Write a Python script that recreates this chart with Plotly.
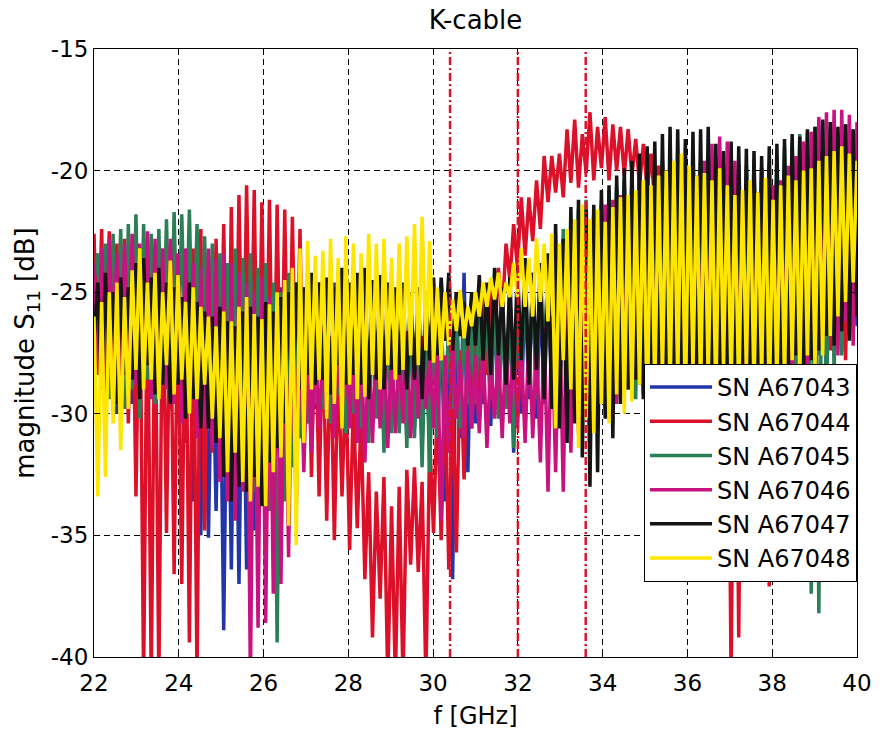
import plotly.graph_objects as go

# ---------------- sweep grid (GHz) ----------------
FREQ_START = 22.0
FREQ_STEP = 0.09
N_POINTS = 201
freq_ghz = [round(FREQ_START + FREQ_STEP * i, 2) for i in range(N_POINTS)]

# Values. "even" = samples at 22.00, 22.18, ... 40.00 GHz,
# "odd" = samples at 22.09, 22.27, ... 39.91 GHz (one line = 0.9 GHz).

# SN A67043 (blue)
a43_even = [
    -27.0, -28.4, -29.2, -30.0, -29.4,
    -29.6, -28.8, -29.2, -28.6, -29.0,
    -29.8, -30.4, -31.2, -33.6, -35.0,
    -35.1, -34.0, -38.9, -36.4, -37.0,
    -36.4, -34.8, -33.6, -32.8, -31.6,
    -30.8, -30.2, -29.6, -30.4, -29.8,
    -29.6, -30.0, -29.2, -29.8, -29.4,
    -29.8, -30.2, -29.4, -30.6, -30.0,
    -30.4, -31.0, -30.6, -31.4, -32.0,
    -32.0, -33.6, -36.8, -31.0, -32.4,
    -30.4, -29.6, -30.5, -29.8, -29.2,
    -31.6, -30.0, -29.4, -30.2, -29.6,
    -29.2, -29.8, -29.0, -28.6, -29.4,
    -29.6, -30.4, -29.8, -29.2, -28.8,
    -29.0, -28.4, -29.2, -28.6, -29.4,
    -28.8, -29.0, -28.4, -28.6, -29.2,
    -28.6, -29.0, -28.2, -28.8, -29.4,
    -29.0, -28.4, -28.8, -29.2, -28.6,
    -28.2, -28.6, -28.0, -28.4, -27.8,
    -27.6, -27.2, -26.8, -27.4, -26.6,
    -26.4,
]
a43_odd = [
    -24.0, -23.6, -24.2, -23.8, -24.4,
    -24.2, -24.6, -24.0, -24.8, -24.4,
    -24.8, -25.2, -25.0, -25.4, -25.6,
    -25.8, -26.2, -25.6, -26.0, -25.4,
    -25.2, -25.6, -25.0, -25.4, -24.8,
    -24.6, -25.0, -24.8, -25.2, -24.6,
    -25.0, -24.6, -25.2, -24.8, -25.4,
    -25.2, -25.6, -25.0, -25.4, -25.8,
    -25.6, -25.2, -25.8, -25.4, -25.0,
    -25.2, -24.8, -25.0, -24.2, -25.4,
    -25.0, -25.6, -25.2, -25.8, -25.4,
    -25.0, -24.6, -24.2, -24.8, -24.4,
    -23.8, -23.2, -22.6, -22.0, -21.6,
    -21.8, -21.4, -21.0, -20.8, -20.6,
    -20.4, -20.2, -20.0, -19.9, -19.8,
    -19.8, -19.9, -19.7, -19.8, -20.0,
    -20.0, -20.2, -20.1, -20.3, -20.2,
    -20.2, -20.0, -19.9, -20.1, -19.8,
    -19.7, -19.6, -19.4, -19.5, -19.3,
    -19.2, -19.1, -19.3, -19.0, -19.4,
]

# SN A67044 (red)
a44_even = [
    -22.6, -22.4, -22.5, -23.0, -22.8,
    -23.0, -23.4, -23.8, -24.2, -23.6,
    -24.4, -24.8, -24.0, -23.2, -22.4,
    -23.4, -22.8, -22.2, -21.5, -21.0,
    -20.6, -20.8, -21.3, -21.2, -21.4,
    -21.6, -21.9, -22.4, -24.2, -25.4,
    -26.4, -27.0, -27.8, -28.6, -29.4,
    -30.2, -32.4, -33.2, -32.6, -33.8,
    -33.0, -32.3, -32.2, -32.8, -31.0,
    -29.4, -28.6, -29.0, -27.4, -26.4,
    -25.8, -25.2, -24.6, -24.0, -23.0,
    -22.2, -21.1, -21.1, -20.4, -19.4,
    -19.4, -19.3, -18.3, -17.9, -18.5,
    -17.6, -18.2, -17.8, -18.1, -18.2,
    -18.3, -18.7, -18.9, -19.3, -19.8,
    -20.2, -20.6, -20.4, -21.0, -20.8,
    -21.2, -21.6, -21.4, -22.0, -21.8,
    -21.4, -21.0, -21.6, -21.2, -20.8,
    -20.6, -20.4, -20.2, -20.0, -19.8,
    -19.6, -19.4, -19.6, -19.8, -20.0,
    -20.2,
]
a44_odd = [
    -28.4, -29.2, -28.8, -29.6, -30.4,
    -33.4, -41.0, -41.0, -41.0, -34.9,
    -36.6, -37.0, -39.4, -41.0, -34.8,
    -31.6, -30.8, -32.2, -31.4, -30.6,
    -30.2, -31.8, -30.6, -32.4, -31.2,
    -31.0, -30.4, -31.8, -32.6, -33.4,
    -34.4, -35.2, -33.4, -35.6, -34.7,
    -36.8, -39.2, -37.6, -41.0, -41.0,
    -41.0, -36.2, -36.5, -41.0, -34.9,
    -35.2, -36.4, -35.7, -32.7, -30.6,
    -29.6, -28.4, -27.2, -26.0, -24.5,
    -24.0, -23.5, -22.9, -22.4, -21.3,
    -20.9, -21.1, -20.5, -20.7, -20.1,
    -20.4, -19.9, -20.4, -20.0, -20.2,
    -20.2, -20.6, -20.8, -21.4, -22.0,
    -24.6, -26.2, -27.4, -28.0, -27.6,
    -28.6, -29.4, -30.2, -41.0, -39.2,
    -29.8, -28.6, -29.4, -37.1, -29.0,
    -28.4, -29.0, -28.2, -27.6, -27.0,
    -26.6, -27.4, -26.0, -27.8, -26.4,
]

# SN A67045 (green)
a45_even = [
    -24.5, -28.6, -29.4, -28.2, -29.8,
    -29.0, -30.2, -28.6, -29.6, -28.8,
    -29.4, -28.4, -27.8, -28.8, -29.6,
    -30.0, -31.2, -30.6, -31.8, -32.4,
    -32.0, -33.2, -32.6, -34.0, -39.4,
    -33.6, -32.2, -31.0, -30.4, -29.6,
    -29.8, -30.4, -29.2, -30.8, -30.0,
    -30.6, -31.2, -30.2, -31.6, -30.8,
    -30.8, -31.4, -31.0, -32.2, -32.4,
    -31.0, -30.4, -29.8, -30.6, -29.6,
    -29.6, -28.8, -29.4, -30.2, -29.8,
    -31.4, -29.0, -28.6, -29.4, -28.2,
    -29.0, -28.4, -29.6, -28.8, -30.0,
    -29.4, -30.2, -29.0, -28.6, -29.2,
    -28.8, -29.4, -28.4, -29.0, -28.6,
    -28.8, -28.2, -29.0, -28.4, -28.6,
    -28.4, -29.0, -28.6, -29.2, -28.0,
    -28.6, -29.2, -28.8, -28.4, -29.0,
    -28.8, -29.6, -30.4, -31.2, -37.4,
    -38.2, -30.6, -28.4, -27.6, -26.8,
    -26.0,
]
a45_odd = [
    -23.4, -23.0, -22.6, -22.4, -22.2,
    -21.8, -22.2, -22.6, -22.4, -22.0,
    -21.7, -21.8, -21.6, -22.2, -22.7,
    -23.0, -23.4, -23.8, -23.2, -23.6,
    -23.4, -24.0, -23.8, -24.6, -25.0,
    -24.2, -24.6, -25.0, -24.8, -25.2,
    -25.4, -25.8, -25.2, -25.6, -26.0,
    -25.6, -26.0, -25.4, -26.2, -25.8,
    -26.0, -25.6, -26.4, -26.2, -25.8,
    -25.8, -26.2, -25.6, -26.0, -26.4,
    -25.4, -25.8, -25.2, -25.6, -25.0,
    -24.6, -24.2, -24.8, -24.0, -23.6,
    -23.0, -22.4, -22.0, -21.6, -21.2,
    -21.6, -21.2, -20.8, -20.6, -20.4,
    -20.2, -20.0, -19.8, -19.8, -19.6,
    -19.6, -19.5, -19.7, -19.4, -19.6,
    -19.5, -19.7, -19.8, -20.0, -19.8,
    -19.8, -19.6, -19.9, -19.7, -19.4,
    -19.0, -18.8, -18.5, -18.4, -18.2,
    -18.0, -18.2, -18.4, -18.1, -18.3,
]

# SN A67046 (magenta)
a46_even = [
    -23.8, -23.2, -22.8, -23.4, -23.0,
    -22.6, -23.0, -22.5, -22.8, -23.2,
    -22.8, -23.4, -23.2, -23.8, -24.0,
    -23.2, -23.6, -23.4, -23.8, -24.2,
    -24.6, -25.0, -24.4, -25.2, -25.6,
    -25.8, -26.2, -26.0, -26.6, -27.0,
    -27.2, -26.8, -27.4, -27.0, -26.6,
    -26.8, -27.2, -26.6, -27.0, -27.4,
    -27.0, -26.6, -27.2, -26.8, -27.4,
    -27.2, -27.6, -27.0, -27.8, -27.4,
    -27.6, -27.2, -27.8, -27.4, -27.0,
    -26.8, -27.2, -26.6, -27.0, -26.4,
    -26.0, -25.4, -24.6, -23.8, -23.0,
    -22.4, -21.8, -21.4, -21.2, -21.0,
    -21.0, -20.8, -21.2, -20.9, -20.6,
    -20.6, -20.9, -20.4, -20.8, -20.2,
    -19.6, -18.9, -18.6, -18.8, -19.6,
    -20.8, -21.0, -20.9, -21.2, -20.6,
    -20.4, -19.8, -19.4, -18.8, -18.4,
    -17.8, -17.6, -17.5, -17.5, -17.7,
    -18.0,
]
a46_odd = [
    -27.6, -28.2, -27.4, -28.6, -28.0,
    -28.8, -28.2, -29.4, -28.6, -29.0,
    -29.6, -30.4, -29.2, -31.0, -30.6,
    -31.4, -32.8, -33.6, -34.4, -33.2,
    -41.0, -38.8, -38.6, -37.4, -37.0,
    -35.9, -34.0, -32.4, -31.6, -30.6,
    -30.2, -31.0, -29.8, -30.6, -31.2,
    -32.0, -31.2, -30.6, -31.4, -30.8,
    -30.4, -31.0, -30.2, -29.8, -30.6,
    -34.4, -31.6, -30.2, -31.0, -30.6,
    -30.8, -31.4, -30.2, -31.0, -30.4,
    -30.6, -31.2, -31.0, -32.0, -33.2,
    -32.4, -33.2, -31.6, -30.8, -30.2,
    -30.0, -29.4, -30.2, -29.6, -29.0,
    -29.4, -28.8, -29.2, -28.6, -29.0,
    -28.6, -29.0, -28.4, -28.8, -28.2,
    -28.4, -28.8, -29.2, -28.6, -29.0,
    -28.8, -28.2, -29.0, -28.6, -28.4,
    -28.2, -28.6, -27.8, -28.4, -27.6,
    -27.0, -26.4, -27.6, -26.2, -27.2,
]

# SN A67047 (black)
a47_even = [
    -27.0, -29.0, -28.2, -29.6, -28.4,
    -28.6, -29.4, -28.0, -29.2, -28.8,
    -29.6, -28.8, -30.2, -29.4, -30.6,
    -30.6, -31.2, -32.6, -33.6, -33.0,
    -33.2, -32.6, -33.8, -32.0, -31.4,
    -30.4, -29.6, -29.0, -28.4, -28.8,
    -28.6, -29.2, -28.0, -28.8, -28.4,
    -28.8, -29.4, -28.6, -29.0, -28.2,
    -28.4, -29.0, -28.6, -29.4, -27.8,
    -27.6, -27.0, -27.4, -26.8, -27.2,
    -27.2, -27.8, -28.4, -27.6, -28.8,
    -28.6, -27.8, -28.8, -28.2, -29.4,
    -29.8, -30.6, -31.2, -30.4, -31.8,
    -33.0, -32.4, -30.2, -31.0, -29.6,
    -29.0, -28.6, -29.4, -28.2, -29.0,
    -28.8, -29.2, -28.4, -29.0, -28.6,
    -28.2, -28.8, -29.4, -28.6, -29.0,
    -28.4, -29.2, -28.6, -28.0, -28.8,
    -28.6, -28.0, -27.6, -28.4, -27.8,
    -27.4, -26.8, -27.2, -26.6, -27.0,
    -26.0,
]
a47_odd = [
    -24.6, -24.2, -25.0, -24.4, -24.8,
    -23.8, -23.6, -24.4, -24.0, -24.6,
    -24.8, -25.2, -24.6, -25.4, -25.8,
    -26.0, -25.6, -26.2, -26.4, -25.8,
    -25.6, -26.0, -25.4, -25.8, -25.2,
    -25.0, -24.6, -24.8, -24.2, -24.6,
    -24.4, -24.8, -24.0, -24.6, -24.2,
    -24.0, -24.5, -24.3, -24.6, -24.8,
    -24.6, -25.0, -24.8, -25.2, -24.4,
    -24.4, -24.2, -25.0, -25.4, -25.0,
    -24.3, -24.6, -24.0, -24.8, -24.4,
    -24.0, -23.6, -24.2, -23.8, -23.4,
    -22.2, -22.8, -21.5, -21.2, -21.6,
    -21.4, -20.8, -20.6, -20.2, -19.9,
    -19.6, -19.3, -19.0, -18.8, -18.5,
    -18.2, -18.3, -18.7, -18.4, -18.3,
    -18.2, -18.9, -19.2, -18.8, -19.0,
    -19.1, -19.2, -19.4, -19.0, -18.9,
    -18.7, -18.5, -18.6, -18.3, -18.2,
    -17.9, -18.0, -18.2, -18.1, -18.3,
]

# SN A67048 (yellow)
a48_even = [
    -26.0, -25.4, -25.0, -24.6, -25.2,
    -24.1, -23.2, -24.6, -24.2, -25.0,
    -23.7, -24.3, -25.4, -24.8, -25.6,
    -26.0, -26.4, -25.8, -26.2, -25.6,
    -25.2, -25.9, -26.1, -25.5, -25.0,
    -24.5, -24.0, -23.2, -22.9, -23.5,
    -23.3, -22.8, -23.6, -22.7, -23.0,
    -23.4, -22.6, -23.0, -22.8, -23.6,
    -23.0, -22.7, -22.2, -21.9, -22.9,
    -24.8, -25.0, -25.3, -24.9, -25.6,
    -25.0, -24.6, -24.4, -24.2, -24.6,
    -23.8, -23.2, -23.6, -22.8, -23.0,
    -22.6, -23.0, -22.4, -22.0, -21.4,
    -22.0, -21.6, -22.1, -21.5, -21.1,
    -21.0, -20.8, -20.4, -20.6, -20.2,
    -20.0, -19.6, -19.3, -19.8, -20.2,
    -20.1, -20.4, -19.9, -20.6, -21.0,
    -20.8, -20.4, -20.9, -20.3, -21.2,
    -20.6, -20.2, -20.4, -20.0, -19.9,
    -19.6, -19.4, -19.2, -19.0, -19.3,
    -19.6,
]
a48_odd = [
    -33.4, -32.6, -30.4, -31.5, -29.8,
    -28.2, -29.0, -28.6, -29.4, -28.0,
    -29.2, -28.6, -30.0, -29.4, -28.8,
    -30.2, -31.0, -32.4, -31.6, -32.8,
    -33.6, -33.0, -33.8, -32.4, -31.8,
    -34.6, -35.4, -31.2, -29.0, -28.6,
    -30.2, -29.6, -30.6, -28.8, -29.4,
    -29.3, -28.4, -29.0, -28.0, -28.6,
    -28.2, -27.6, -28.0, -27.4, -27.9,
    -27.8, -27.2, -26.6, -26.9, -26.4,
    -26.0, -25.6, -25.3, -25.6, -25.2,
    -25.2, -25.6, -26.0, -25.4, -26.2,
    -30.6, -27.8, -29.0, -31.4, -30.2,
    -30.8, -29.6, -30.4, -29.2, -30.0,
    -29.5, -28.8, -30.2, -29.0, -28.4,
    -29.2, -28.6, -29.8, -28.2, -29.0,
    -28.6, -29.4, -28.0, -28.8, -29.2,
    -28.2, -29.0, -28.4, -29.6, -28.8,
    -28.6, -27.8, -28.4, -27.6, -28.0,
    -27.6, -26.8, -26.0, -25.4, -24.6,
]

series_names = ["SN A67043", "SN A67044", "SN A67045",
                "SN A67046", "SN A67047", "SN A67048"]
series_colors = ["#2236a8", "#dc1028", "#2b7f57", "#c8127f", "#141414", "#ffe600"]
series_even = [a43_even, a44_even, a45_even, a46_even, a47_even, a48_even]
series_odd = [a43_odd, a44_odd, a45_odd, a46_odd, a47_odd, a48_odd]

marker_freqs = [30.4, 32.0, 33.6]   # red dash-dot markers
x_ticks = [22, 24, 26, 28, 30, 32, 34, 36, 38, 40]
y_ticks = [-40, -35, -30, -25, -20, -15]


def merge(even, odd):
    out = []
    for i, v in enumerate(even):
        out.append(v)
        if i < len(odd):
            out.append(odd[i])
    return out


FONT = "DejaVu Sans"
fig = go.Figure()
for name, col, ev, od in zip(series_names, series_colors, series_even, series_odd):
    fig.add_trace(go.Scatter(
        x=freq_ghz, y=merge(ev, od), mode="lines", name=name,
        line=dict(color=col, width=3.5), hoverinfo="skip"))

for f in marker_freqs:
    fig.add_shape(type="line", xref="x", yref="paper", x0=f, x1=f, y0=0, y1=1,
                  line=dict(color="#e0102a", width=2.5, dash="8px,3px,2px,3px"),
                  layer="above")

axis_common = dict(
    showline=True, linecolor="black", linewidth=1, mirror="allticks",
    ticks="inside", ticklen=6, tickcolor="black", tickwidth=1,
    showgrid=True, gridcolor="black", gridwidth=1, griddash="6px,4px",
    zeroline=False, tickfont=dict(family=FONT, size=23, color="black"),
)
fig.update_xaxes(range=[22, 40], tickvals=x_ticks, ticktext=[str(t) for t in x_ticks],
                 ticklabelstandoff=5,
                 title=dict(text="f [GHz]", font=dict(family=FONT, size=24, color="black"),
                            standoff=12),
                 **axis_common)
fig.update_yaxes(range=[-40, -15], tickvals=y_ticks, ticktext=[str(t) for t in y_ticks],
                 title=dict(text="magnitude S<sub>11</sub> [dB]",
                            font=dict(family=FONT, size=26, color="black"), standoff=8),
                 **axis_common)

fig.update_layout(
    width=884, height=740,
    margin=dict(l=94, r=21, t=49, b=83),
    paper_bgcolor="white", plot_bgcolor="white",
    font=dict(family=FONT, color="black"),
    title=dict(text="K-cable", x=0.5, xref="paper", xanchor="center",
               y=1 - 20 / 740, yref="container", yanchor="middle",
               font=dict(family=FONT, size=26, color="black")),
    legend=dict(x=1, xanchor="right", y=0.482, yanchor="top",
                bgcolor="white", bordercolor="black", borderwidth=1,
                font=dict(family=FONT, size=24, color="black"),
                tracegroupgap=0, itemwidth=62),
    showlegend=True,
)

fig.write_html("out.html")
